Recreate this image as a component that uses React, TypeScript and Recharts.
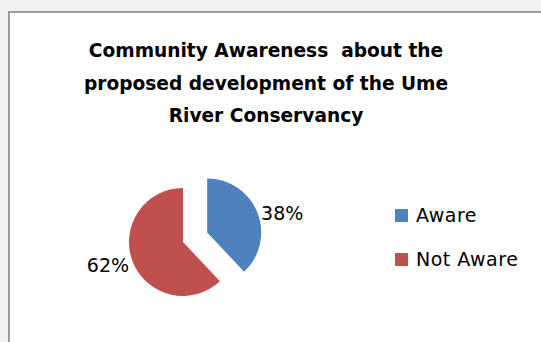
import React from 'react';
import { PieChart, Pie, Cell, Legend } from 'recharts';

const categories = ['Aware', 'Not Aware'];
const values = [38, 62];
const colors = ['#4F81BD', '#C0504D'];
const titleLines = [
  'Community Awareness  about the',
  'proposed development of the Ume',
  'River Conservancy',
];

const data = categories.map((name, i) => ({ name, value: values[i] }));

const CX = 183;
const CY = 242;
const R = 54;
const EXPLODE = 26;
const total = values.reduce((a, b) => a + b, 0);
const explodedMidDeg = (values[0] / total) * 180; // clockwise from top
const exCX = CX + EXPLODE * Math.sin((explodedMidDeg * Math.PI) / 180);
const exCY = CY - EXPLODE * Math.cos((explodedMidDeg * Math.PI) / 180);

const FONT = '"DejaVu Sans", Verdana, sans-serif';

const makeLabel = (shown: number) => (props: any) => {
  const { cx, cy, midAngle, outerRadius, index, percent } = props;
  if (index !== shown) return null;
  const RAD = Math.PI / 180;
  const r = outerRadius + 4;
  const c = Math.cos(-midAngle * RAD);
  const x = cx + r * c;
  const y = cy + r * Math.sin(-midAngle * RAD) + 2;
  return (
    <text
      x={x}
      y={y}
      textAnchor={c >= 0 ? 'start' : 'end'}
      dominantBaseline="central"
      fill="#000"
      style={{ fontFamily: FONT, fontSize: 19 }}
    >
      {`${Math.round(percent * 100)}%`}
    </text>
  );
};

const renderLegend = (props: any) => {
  const items = (props.payload || [])
    .filter((p: any) => p.color && p.color !== 'none')
    .sort((a: any, b: any) => categories.indexOf(a.value) - categories.indexOf(b.value));
  return (
    <div>
      {items.map((p: any) => (
        <div
          key={p.value}
          style={{
            display: 'flex',
            alignItems: 'center',
            height: 44,
            lineHeight: '44px',
            fontFamily: FONT,
            fontSize: 19,
            letterSpacing: 0.5,
            color: '#000',
          }}
        >
          <span
            style={{
              display: 'inline-block',
              width: 13,
              height: 13,
              background: p.color,
              marginRight: 8,
            }}
          />
          <span>{p.value}</span>
        </div>
      ))}
    </div>
  );
};

export default function App() {
  return (
    <div
      style={{
        position: 'fixed',
        left: 0,
        top: 0,
        width: 541,
        height: 342,
        background: '#f0f1f3',
        overflow: 'hidden',
      }}
    >
      <div
        style={{
          position: 'absolute',
          left: 8,
          top: 11,
          right: 0,
          bottom: 0,
          background: '#fff',
          borderLeft: '2px solid #9c9c9c',
          borderTop: '2px solid #9c9c9c',
        }}
      />
      <svg
        width={541}
        height={342}
        style={{ position: 'absolute', left: 0, top: 0 }}
      >
        {titleLines.map((line, i) => (
          <text
            key={i}
            x={266}
            y={57 + i * 32.5}
            textAnchor="middle"
            fill="#000"
            style={{ fontFamily: FONT, fontSize: 18.6, fontWeight: 'bold', whiteSpace: 'pre' }}
            xmlSpace="preserve"
          >
            {line}
          </text>
        ))}
      </svg>
      <div style={{ position: 'absolute', left: 0, top: 0 }}>
        <PieChart width={541} height={342} margin={{ top: 0, right: 0, bottom: 0, left: 0 }}>
          <Pie
            data={data}
            dataKey="value"
            nameKey="name"
            cx={CX}
            cy={CY}
            outerRadius={R}
            startAngle={90}
            endAngle={-270}
            stroke="none"
            label={makeLabel(1)}
            labelLine={false}
            isAnimationActive={false}
          >
            {data.map((d, i) => (
              <Cell key={d.name} fill={i === 1 ? colors[i] : 'none'} />
            ))}
          </Pie>
          <Pie
            data={data}
            dataKey="value"
            nameKey="name"
            cx={exCX}
            cy={exCY}
            outerRadius={R}
            startAngle={90}
            endAngle={-270}
            stroke="none"
            label={makeLabel(0)}
            labelLine={false}
            isAnimationActive={false}
          >
            {data.map((d, i) => (
              <Cell key={d.name} fill={i === 0 ? colors[i] : 'none'} />
            ))}
          </Pie>
          <Legend
            content={renderLegend}
            wrapperStyle={{ left: 395, top: 193, width: 146 }}
          />
        </PieChart>
      </div>
    </div>
  );
}
